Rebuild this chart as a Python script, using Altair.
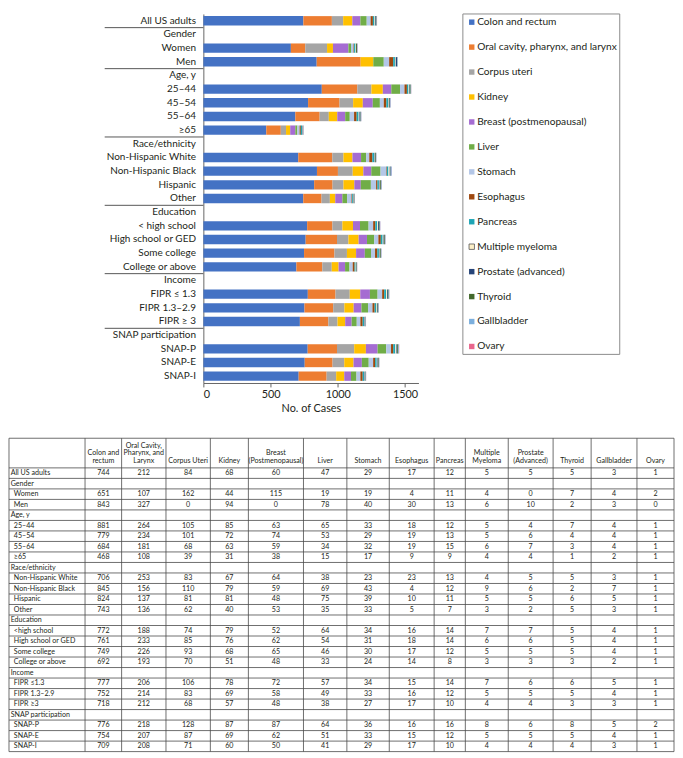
import altair as alt
import pandas as pd

# ---------------- data ----------------
cancers = [
    "Colon and rectum", "Oral cavity, pharynx, and larynx", "Corpus uteri", "Kidney",
    "Breast (postmenopausal)", "Liver", "Stomach", "Esophagus", "Pancreas",
    "Multiple myeloma", "Prostate (advanced)", "Thyroid", "Gallbladder", "Ovary",
]
cancer_colors = [
    "#4472C4", "#ED7D31", "#A5A5A5", "#FFC000", "#A56CD2", "#70AD47", "#B4C7E7",
    "#9E480E", "#1EA5B5", "#FDF0C8", "#264478", "#43682B", "#7CAFDD", "#E9668C",
]

row_labels_chart = [
    "All US adults", "Gender", "Women", "Men", "Age, y", "25–44", "45–54", "55–64", "≥65",
    "Race/ethnicity", "Non-Hispanic White", "Non-Hispanic Black", "Hispanic", "Other",
    "Education", "< high school", "High school or GED", "Some college", "College or above",
    "Income", "FIPR ≤ 1.3", "FIPR 1.3–2.9", "FIPR ≥ 3",
    "SNAP participation", "SNAP-P", "SNAP-E", "SNAP-I",
]
row_labels_table = [
    "All US adults", "Gender", "Women", "Men", "Age, y", "25–44", "45–54", "55–64", "≥65",
    "Race/ethnicity", "Non-Hispanic White", "Non-Hispanic Black", "Hispanic", "Other",
    "Education", "<high school", "High school or GED", "Some college", "College or above",
    "Income", "FIPR ≤1.3", "FIPR 1.3–2.9", "FIPR ≥3",
    "SNAP participation", "SNAP-P", "SNAP-E", "SNAP-I",
]
group_rows = ["Gender", "Age, y", "Race/ethnicity", "Education", "Income", "SNAP participation"]

table_headers = [
    "Colon and\nrectum", "Oral Cavity,\nPharynx, and\nLarynx", "Corpus Uteri", "Kidney",
    "Breast\n(Postmenopausal)", "Liver", "Stomach", "Esophagus", "Pancreas",
    "Multiple\nMyeloma", "Prostate\n(Advanced)", "Thyroid", "Gallbladder", "Ovary",
]

cases = {
    "All US adults":      [744, 212, 84, 68, 60, 47, 29, 17, 12, 5, 5, 5, 3, 1],
    "Women":              [651, 107, 162, 44, 115, 19, 19, 4, 11, 4, 0, 7, 4, 2],
    "Men":                [843, 327, 0, 94, 0, 78, 40, 30, 13, 6, 10, 2, 3, 0],
    "25–44":              [881, 264, 105, 85, 63, 65, 33, 18, 12, 5, 4, 7, 4, 1],
    "45–54":              [779, 234, 101, 72, 74, 53, 29, 19, 13, 5, 6, 4, 4, 1],
    "55–64":              [684, 181, 68, 63, 59, 34, 32, 19, 15, 6, 7, 3, 4, 1],
    "≥65":                [468, 108, 39, 31, 38, 15, 17, 9, 9, 4, 4, 1, 2, 1],
    "Non-Hispanic White": [706, 253, 83, 67, 64, 38, 23, 23, 13, 4, 5, 5, 3, 1],
    "Non-Hispanic Black": [845, 156, 110, 79, 59, 69, 43, 4, 12, 9, 6, 2, 7, 1],
    "Hispanic":           [824, 137, 81, 81, 48, 75, 39, 10, 11, 5, 5, 6, 5, 1],
    "Other":              [743, 136, 62, 40, 53, 35, 33, 5, 7, 3, 2, 5, 3, 1],
    "< high school":      [772, 188, 74, 79, 52, 64, 34, 16, 14, 7, 7, 5, 4, 1],
    "High school or GED": [761, 233, 85, 76, 62, 54, 31, 18, 14, 6, 6, 5, 4, 1],
    "Some college":       [749, 226, 93, 68, 65, 46, 30, 17, 12, 5, 5, 5, 4, 1],
    "College or above":   [692, 193, 70, 51, 48, 33, 24, 14, 8, 3, 3, 3, 2, 1],
    "FIPR ≤ 1.3":         [777, 206, 106, 78, 72, 57, 34, 15, 14, 7, 6, 6, 5, 1],
    "FIPR 1.3–2.9":       [752, 214, 83, 69, 58, 49, 33, 16, 12, 5, 5, 5, 4, 1],
    "FIPR ≥ 3":           [718, 212, 68, 57, 48, 38, 27, 17, 10, 4, 4, 3, 3, 1],
    "SNAP-P":             [776, 218, 128, 87, 87, 64, 36, 16, 16, 8, 6, 8, 5, 2],
    "SNAP-E":             [754, 207, 87, 69, 62, 51, 33, 15, 12, 5, 5, 5, 4, 1],
    "SNAP-I":             [709, 208, 71, 60, 50, 41, 29, 17, 10, 4, 4, 4, 3, 1],
}

# ---------------- layout constants ----------------
FONT = "Lato"
TXT = "#231F20"
LINE = "#4A4A4A"
COL_EDGES = [0, 78, 115.5, 161, 206.5, 245.5, 302, 346.5, 390, 436, 468, 512, 558, 597, 644, 682]
HDR = 2.82          # header height in row units
ROW_PX = 10.65
NROW = len(row_labels_chart)
TX_RANGE = [-197, 477]
TY_RANGE = [430, 430 + ROW_PX * (NROW + HDR)]
TFS = 7.2           # table font size
HDR_LH = 7.6        # header line height (px)
LEG_BOX = (263, 422, 0, 345)      # legend frame (x0, x1, y0, y1) in px from plot origin
LEG_ROWS = [8.3, 337]             # first / last legend entry centre
LEG_SYM_X = 272
LEG_TXT_X = 277.5

color_scale = alt.Scale(domain=cancers, range=cancer_colors)

# ---------------- bar chart ----------------
bar_records = []
for lab in row_labels_chart:
    if lab in cases:
        for k, (c, v) in enumerate(zip(cancers, cases[lab])):
            bar_records.append({"row": lab, "cancer": c, "value": v, "k": k})
bar_df = pd.DataFrame(bar_records)

yscale = alt.Scale(domain=row_labels_chart, paddingInner=0, paddingOuter=0)

bars = alt.Chart(bar_df).mark_bar(size=9.5).encode(
    x=alt.X("value:Q", stack="zero",
            scale=alt.Scale(domain=[0, 1600], nice=False, zero=True),
            axis=alt.Axis(values=[0, 500, 1000, 1500], format="d", title="No. of Cases",
                          grid=False, domainColor="#666", tickColor="#666", tickSize=4,
                          labelFont=FONT, labelFontSize=11, labelColor=TXT, labelPadding=2,
                          titleFont=FONT, titleFontSize=11, titleFontWeight="normal",
                          titleColor=TXT, titlePadding=3)),
    y=alt.Y("row:N", scale=yscale,
            axis=alt.Axis(title=None, ticks=False, labelPadding=8, labelLimit=250,
                          domainColor="#666", labelFont=FONT, labelFontSize=10.1,
                          labelColor=TXT)),
    color=alt.Color("cancer:N", scale=color_scale, legend=None),
    order=alt.Order("k:Q"),
)

sep_df = pd.DataFrame({"row": group_rows})
seps = alt.Chart(sep_df).mark_rule(color="#555", strokeWidth=1).encode(
    y=alt.Y("row:N", scale=yscale, bandPosition=0),
    x=alt.value(-100),
    x2=alt.value(0),
)

bar_group = alt.layer(bars, seps)

# ---------------- legend (frame + entries driven by the colour scale) ----------------
leg_df = pd.DataFrame({"cancer": cancers})
leg_y = alt.Y("cancer:N", scale=alt.Scale(type="point", domain=cancers, range=LEG_ROWS,
                                          padding=0), axis=None)
leg_frame = alt.Chart(pd.DataFrame({"f": [0]})).mark_rect(
    fill="white", stroke="#8A8A8A", strokeWidth=1).encode(
    x=alt.value(LEG_BOX[0]), x2=alt.value(LEG_BOX[1]),
    y=alt.value(LEG_BOX[2]), y2=alt.value(LEG_BOX[3]),
)
leg_sym = alt.Chart(leg_df).mark_square(size=30, opacity=1, strokeWidth=0.8).encode(
    x=alt.value(LEG_SYM_X),
    y=leg_y,
    color=alt.Color("cancer:N", scale=color_scale, legend=None),
    stroke=alt.condition(alt.datum.cancer == "Multiple myeloma",
                         alt.value("#555"), alt.value("transparent")),
)
leg_txt = alt.Chart(leg_df).mark_text(align="left", baseline="middle", font=FONT,
                                      fontSize=10.3, color=TXT).encode(
    x=alt.value(LEG_TXT_X),
    y=leg_y,
    text="cancer:N",
)
legend_group = alt.layer(leg_frame, leg_sym, leg_txt)

# ---------------- table ----------------
txs = alt.Scale(domain=[COL_EDGES[0], COL_EDGES[-1]], range=TX_RANGE, nice=False, zero=False)
tys = alt.Scale(domain=[-HDR, NROW], range=TY_RANGE, nice=False, zero=False)

vl_df = pd.DataFrame({"tx": COL_EDGES, "ya": [-HDR] * len(COL_EDGES), "yb": [NROW] * len(COL_EDGES)})
vlines = alt.Chart(vl_df).mark_rule(color=LINE, strokeWidth=0.8).encode(
    x=alt.X("tx:Q", scale=txs, axis=None),
    y=alt.Y("ya:Q", scale=tys, axis=None),
    y2="yb:Q",
)

hl_y = [-HDR] + list(range(0, NROW + 1))
hl_df = pd.DataFrame({"ty": hl_y, "xa": [COL_EDGES[0]] * len(hl_y), "xb": [COL_EDGES[-1]] * len(hl_y)})
hlines = alt.Chart(hl_df).mark_rule(color=LINE, strokeWidth=0.8).encode(
    y=alt.Y("ty:Q", scale=tys, axis=None),
    x=alt.X("xa:Q", scale=txs, axis=None),
    x2="xb:Q",
)

centers = [(COL_EDGES[i] + COL_EDGES[i + 1]) / 2 for i in range(len(COL_EDGES) - 1)]

hdr_ty = [-0.3 - (h.count("\n")) * HDR_LH / ROW_PX for h in table_headers]
hdr_df = pd.DataFrame({"tx": centers[1:], "ty": hdr_ty, "t": table_headers})
hdr_text = alt.Chart(hdr_df).mark_text(font=FONT, fontSize=TFS, color=TXT, align="center",
                                       baseline="bottom", lineBreak="\n",
                                       lineHeight=HDR_LH).encode(
    x=alt.X("tx:Q", scale=txs, axis=None),
    y=alt.Y("ty:Q", scale=tys, axis=None),
    text="t:N",
)

lbl_records = []
for i, (lab_c, lab_t) in enumerate(zip(row_labels_chart, row_labels_table)):
    flush = lab_c in group_rows or i == 0
    lbl_records.append({"tx": 1.7 if flush else 5, "ty": i + 0.5, "t": lab_t})
lbl_df = pd.DataFrame(lbl_records)
lbl_text = alt.Chart(lbl_df).mark_text(font=FONT, fontSize=TFS, color=TXT, align="left",
                                       baseline="middle").encode(
    x=alt.X("tx:Q", scale=txs, axis=None),
    y=alt.Y("ty:Q", scale=tys, axis=None),
    text="t:N",
)

val_records = []
for i, lab in enumerate(row_labels_chart):
    if lab in cases:
        for j, v in enumerate(cases[lab]):
            val_records.append({"tx": centers[j + 1], "ty": i + 0.5, "t": str(v)})
val_df = pd.DataFrame(val_records)
val_text = alt.Chart(val_df).mark_text(font=FONT, fontSize=TFS, color=TXT, align="center",
                                       baseline="middle").encode(
    x=alt.X("tx:Q", scale=txs, axis=None),
    y=alt.Y("ty:Q", scale=tys, axis=None),
    text="t:N",
)

table_group = alt.layer(vlines, hlines, hdr_text, lbl_text, val_text)

chart = alt.layer(bar_group, legend_group, table_group).resolve_scale(
    x="independent", y="independent"
).properties(
    width=218, height=374, padding=0, background="white"
).configure_view(stroke=None)

chart.save("out.html", embed_options={"renderer": "svg", "actions": False})
